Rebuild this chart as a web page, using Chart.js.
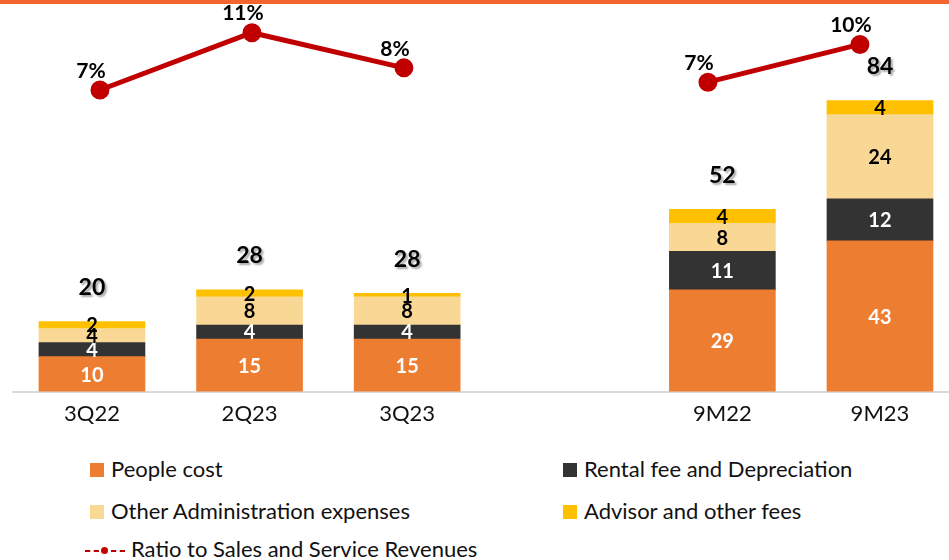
<!DOCTYPE html>
<html>
<head>
<meta charset="utf-8">
<script src="https://cdn.jsdelivr.net/npm/chart.js@4"></script>
<style>
    html, body { margin: 0; padding: 0; background: #fff; overflow: hidden; }
    #contenedor { position: absolute; left: 0; top: 0; width: 949px; height: 440px; }
    #barraTop { position: absolute; left: 0; top: 0; width: 949px; height: 4px; background: #F26430; }
    .leyenda { position: absolute; font-family: Lato, "Open Sans", sans-serif; font-size: 22px; color: #111; white-space: nowrap; line-height: 24px; }
    .caja { display: inline-block; width: 14px; height: 14px; margin-right: 7px; vertical-align: 0px; }
    .linea { display: inline-block; position: relative; width: 40px; height: 10px; margin-right: 6px; vertical-align: 1px; }
</style>
</head>
<body>
<div id="contenedor"><canvas id="grafica" width="949" height="440"></canvas></div>
<div id="barraTop"></div>
<div id="leyenda"></div>
<script>
// Datos
const categorias = ['3Q22', '2Q23', '3Q23', '', '9M22', '9M23'];
const costoPersonal = [10, 15, 15, null, 29, 43];
const rentaDepreciacion = [4, 4, 4, null, 11, 12];
const otrosAdmin = [4, 8, 8, null, 8, 24];
const asesores = [2, 2, 1, null, 4, 4];
const totales = [20, 28, 28, null, 52, 84];
const ratioVentas = [6.7, 11.1, 8.4, null, 7.3, 10.2];

const series = [
    { nombre: 'People cost', datos: costoPersonal, color: '#ED7D31', texto: '#fff' },
    { nombre: 'Rental fee and Depreciation', datos: rentaDepreciacion, color: '#333333', texto: '#fff' },
    { nombre: 'Other Administration expenses', datos: otrosAdmin, color: '#F9D896', texto: '#000' },
    { nombre: 'Advisor and other fees', datos: asesores, color: '#FFC000', texto: '#000' }
];
const colorLinea = '#C00000';
const fuente = 'Lato, "Open Sans", sans-serif';

// Etiquetas dentro de cada segmento, totales arriba y porcentajes de la línea
const etiquetas = {
    id: 'etiquetas',
    afterDatasetsDraw(chart) {
        const ctx = chart.ctx;
        ctx.save();
        ctx.textAlign = 'center';
        ctx.textBaseline = 'middle';
        series.forEach((s, i) => {
            const meta = chart.getDatasetMeta(i);
            ctx.font = 'bold 20px ' + fuente;
            ctx.fillStyle = s.texto;
            meta.data.forEach((bar, j) => {
                const v = s.datos[meta._parsed[j].x];
                if (v == null) return;
                const centro = (bar.y + bar.base) / 2;
                ctx.fillText(String(v), bar.x, centro + 1);
            });
        });
        // totales
        const metaTop = chart.getDatasetMeta(series.length - 1);
        ctx.font = 'bold 23px ' + fuente;
        ctx.fillStyle = '#000';
        ctx.shadowColor = 'rgba(0,0,0,0.35)';
        ctx.shadowOffsetX = 2;
        ctx.shadowOffsetY = 2;
        ctx.shadowBlur = 2;
        metaTop.data.forEach((bar, j) => {
            const t = totales[metaTop._parsed[j].x];
            if (t == null) return;
            ctx.fillText(String(t), bar.x, bar.y - 34);
        });
        // porcentajes
        const metaLinea = chart.getDatasetMeta(series.length);
        ctx.font = 'bold 21px ' + fuente;
        ctx.shadowColor = 'rgba(0,0,0,0)';
        metaLinea.data.forEach((pt, j) => {
            if (ratioVentas[j] == null) return;
            ctx.fillText(Math.round(ratioVentas[j]) + '%', pt.x - 9, pt.y - 19);
        });
        ctx.restore();
    }
};

// las barras usan el índice de la categoría como x
const aPuntos = arr => arr.map((v, i) => ({ x: i, y: v })).filter(p => p.y != null);

const datasets = series.map(s => ({
    label: s.nombre,
    data: aPuntos(s.datos),
    backgroundColor: s.color,
    borderWidth: 0,
    stack: 'gastos',
    grouped: false,
    barThickness: 106,
    xAxisID: 'x',
    yAxisID: 'y',
    order: 2
}));
datasets.push({
    type: 'line',
    label: 'Ratio to Sales and Service Revenues',
    data: ratioVentas.map((v, i) => ({ x: i, y: v })),
    borderColor: colorLinea,
    backgroundColor: colorLinea,
    borderWidth: 5,
    pointRadius: 7,
    pointHoverRadius: 7,
    spanGaps: false,
    xAxisID: 'x2',
    yAxisID: 'y2',
    order: 1
});

new Chart(document.getElementById('grafica').getContext('2d'), {
    type: 'bar',
    data: { datasets: datasets },
    options: {
        responsive: false,
        animation: false,
        devicePixelRatio: 1,
        layout: { autoPadding: false, padding: { left: 13, right: 0, top: 6, bottom: 4 } },
        plugins: { legend: { display: false }, tooltip: { enabled: false } },
        scales: {
            x: {
                type: 'linear',
                offset: false,
                min: -0.501,
                max: 5.438,
                grid: { display: false, drawTicks: false },
                border: { display: true, color: '#D9D9D9', width: 2 },
                afterBuildTicks: scale => { scale.ticks = categorias.map((c, i) => ({ value: i })); },
                ticks: {
                    color: '#111',
                    font: { family: fuente, size: 22 },
                    padding: 9,
                    autoSkip: false,
                    maxRotation: 0,
                    callback: v => categorias[v] || ''
                }
            },
            x2: { type: 'linear', display: false, offset: false, min: -0.572, max: 5.586 },
            y: { display: false, stacked: true, min: 0, max: 110 },
            y2: { display: false, min: -16.46, max: 13.15 }
        }
    },
    plugins: [etiquetas]
});

// Leyenda en HTML
const leyenda = document.getElementById('leyenda');
const posiciones = [[90, 457], [563, 457], [90, 499], [563, 499]];
series.forEach((s, i) => {
    const d = document.createElement('div');
    d.className = 'leyenda';
    d.style.left = posiciones[i][0] + 'px';
    d.style.top = posiciones[i][1] + 'px';
    d.innerHTML = '<span class="caja" style="background:' + s.color + '"></span>' + s.nombre;
    leyenda.appendChild(d);
});
const dl = document.createElement('div');
dl.className = 'leyenda';
dl.style.left = '85px';
dl.style.top = '537px';
dl.innerHTML = '<span class="linea">' +
    '<span style="position:absolute;left:0;top:4px;width:14px;border-top:2px dashed ' + colorLinea + '"></span>' +
    '<span style="position:absolute;left:16px;top:1px;width:7px;height:7px;border-radius:50%;background:' + colorLinea + '"></span>' +
    '<span style="position:absolute;left:26px;top:4px;width:14px;border-top:2px dashed ' + colorLinea + '"></span>' +
    '</span>Ratio to Sales and Service Revenues';
leyenda.appendChild(dl);
</script>
</body>
</html>
